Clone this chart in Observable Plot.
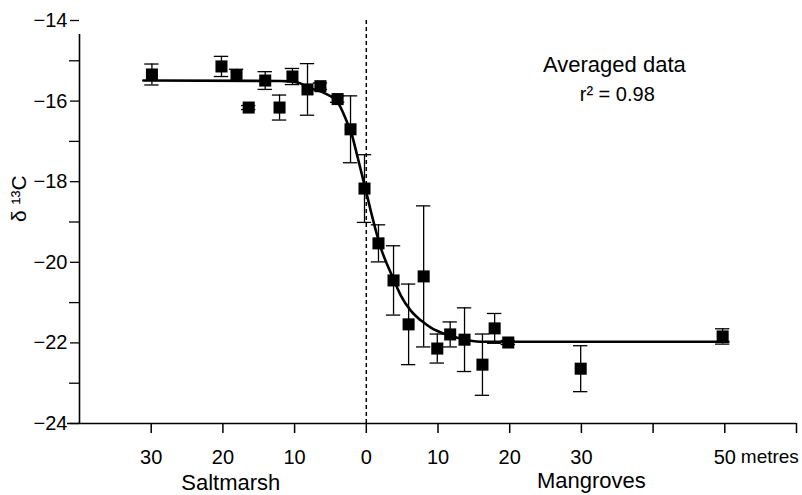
<!DOCTYPE html>
<html><head><meta charset="utf-8">
<script src="https://cdn.jsdelivr.net/npm/d3@7"></script>
<script src="https://cdn.jsdelivr.net/npm/@observablehq/plot@0.6"></script>
<style>body{margin:0;background:#fff;} #chart{width:802px;height:495px;}</style>
</head><body><div id="chart"></div>
<script>
// distance from the saltmarsh/mangrove boundary (m; negative = saltmarsh side)
const pointX = [-29.9, -20.2, -18.1, -16.4, -14.1, -12.1, -10.3, -8.2, -6.4, -4.0, -2.2, -0.25, 1.7, 3.8, 5.9, 8.0, 9.9, 11.7, 13.7, 16.2, 17.9, 19.8, 29.9, 49.7];
const pointY = [-15.34, -15.14, -15.36, -16.16, -15.49, -16.16, -15.39, -15.71, -15.63, -15.95, -16.70, -18.17, -19.53, -20.45, -21.54, -20.35, -22.14, -21.79, -21.92, -22.54, -21.64, -21.99, -22.64, -21.84];
const pointErr = [0.26, 0.25, 0.15, 0.05, 0.22, 0.31, 0.2, 0.64, 0.08, 0.08, 0.83, 0.84, 0.46, 0.86, 1.0, 1.75, 0.36, 0.31, 0.79, 0.76, 0.37, 0.05, 0.57, 0.19];

// fitted curve
const curveX = [-31.1, -12.0, -10.5, -9.2, -8.2, -6.4, -4.0, -2.6, -2.2, -1.2, -0.1, 0.6, 2.0, 3.7, 4.8, 6.2, 7.6, 9.0, 10.8, 13.1, 15.9, 50.5];
const curveY = [-15.49, -15.50, -15.51, -15.56, -15.66, -15.76, -16.03, -16.56, -16.73, -17.40, -18.19, -18.71, -19.63, -20.38, -20.82, -21.20, -21.44, -21.62, -21.77, -21.89, -21.97, -21.97];

const xTicks = [-30, -20, -10, 0, 10, 20, 30, 40, 50, 60];
const xTickLabels = ["30", "20", "10", "0", "10", "20", "30", "", "50", ""];
const yMajor = [-24, -22, -20, -18, -16, -14];
const yMinor = [-23, -21, -19, -17, -15];

const points = pointX.map((x, i) => ({x, y: pointY[i], e: pointErr[i]}));
const curve = curveX.map((x, i) => ({x, y: curveY[i]}));

const chart = Plot.plot({
  width: 802, height: 495,
  marginLeft: 79, marginRight: 6, marginTop: 20, marginBottom: 72,
  style: {fontFamily: "'Liberation Sans', Arial, sans-serif", fontSize: "20px", background: "#fff", color: "#000"},
  x: {domain: [-40, 60]},
  y: {domain: [-24, -14]},
  marks: [
    Plot.axisY({ticks: yMajor, tickSize: 9, tickPadding: 3, fontSize: 20, strokeWidth: 1.3, tickFormat: d => String(d).replace("-", "\u2212"), label: null}),
    Plot.axisY({ticks: yMinor, tickSize: 10, strokeWidth: 1.3, tickFormat: () => "", label: null}),
    Plot.axisX({ticks: xTicks, tickSize: 10, tickPadding: 16, fontSize: 20, strokeWidth: 1.5, tickFormat: d => xTickLabels[xTicks.indexOf(d)], label: null}),
    Plot.ruleX([-40], {y1: -24, y2: -14, insetBottom: -14, strokeWidth: 1.6}),
    Plot.ruleY([-24], {x1: -40, x2: 60, insetLeft: -12, strokeWidth: 1.6}),
    Plot.ruleX([0], {y1: -24, y2: -14, strokeDasharray: "4,3", strokeWidth: 1.5}),
    Plot.ruleX(points, {x: "x", y1: d => d.y - d.e, y2: d => d.y + d.e, strokeWidth: 1.3}),
    Plot.ruleY(points, {y: d => d.y - d.e, x1: d => d.x - 1, x2: d => d.x + 1, strokeWidth: 1.3}),
    Plot.ruleY(points, {y: d => d.y + d.e, x1: d => d.x - 1, x2: d => d.x + 1, strokeWidth: 1.3}),
    Plot.line(curve, {x: "x", y: "y", curve: "monotone-x", strokeWidth: 2.6}),
    Plot.dot(points, {x: "x", y: "y", symbol: "square", r: 6.8, fill: "black", stroke: "none"}),
    Plot.text(["Averaged data"], {x: 34.6, y: -15.1, fontSize: 22, textAnchor: "middle"}),
    Plot.text(["r\u00b2 = 0.98"], {x: 35.0, y: -15.84, fontSize: 20, textAnchor: "middle"}),
    Plot.text(["metres"], {x: 50, y: -24, dx: 16, dy: 33, textAnchor: "start", fontSize: 19}),
    Plot.text(["Saltmarsh"], {x: -18.9, y: -24, dy: 59, fontSize: 22, textAnchor: "middle"}),
    Plot.text(["Mangroves"], {x: 31.4, y: -24, dy: 57, fontSize: 22, textAnchor: "middle"}),
    Plot.text(["\u03b4 \u00b9\u00b3C"], {frameAnchor: "left", dx: -60, dy: 0, rotate: -90, fontSize: 21})
  ]
});
document.getElementById("chart").appendChild(chart);
</script>
</body></html>
